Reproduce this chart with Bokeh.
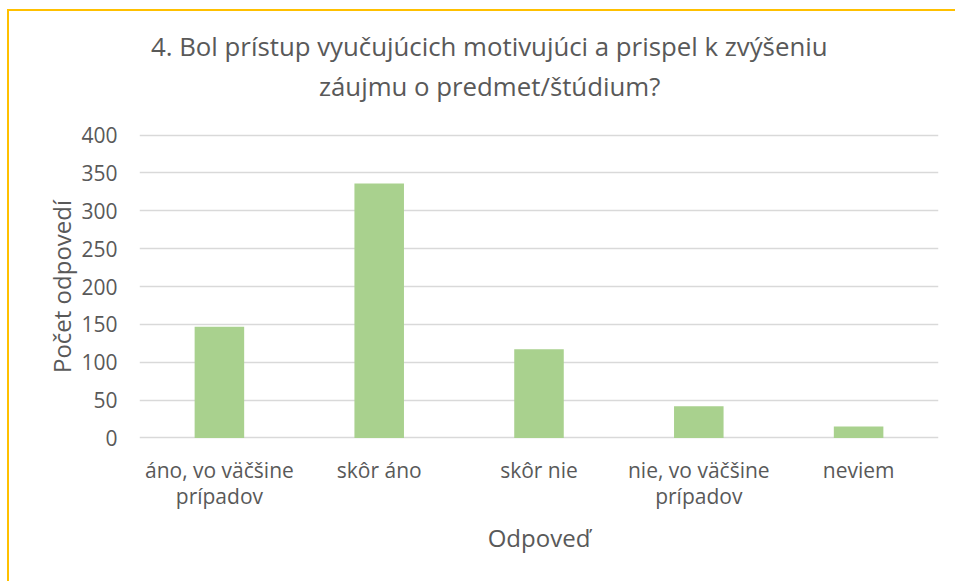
import glob
from bokeh.plotting import figure
from bokeh.models import Range1d, ColumnDataSource, Title
from bokeh.embed import file_html
from bokeh.resources import INLINE

categories = ["áno, vo väčšine\nprípadov", "skôr áno", "skôr nie", "nie, vo väčšine\nprípadov", "neviem"]
counts = [147, 336, 117, 42, 15]
y_ticks = [0, 50, 100, 150, 200, 250, 300, 350, 400]
title_lines = ["4. Bol prístup vyučujúcich motivujúci a prispel k zvýšeniu", "záujmu o predmet/štúdium?"]
x_title = "Odpoveď"
y_title = "Počet odpovedí"

FONT = "Open Sans"
TXT = "#595959"
FRAME_COLOR = "#FFC000"

# text width measurement (for centering the title over the chart area)
def make_measure():
    try:
        from PIL import ImageFont
        paths = sorted(glob.glob("/usr/share/fonts/**/OpenSans*.ttf", recursive=True))
        reg = [q for q in paths if "Regular" in q] or [q for q in paths if "Italic" not in q] or paths
        path = reg[0]
        return lambda s, size: ImageFont.truetype(path, size).getlength(s)
    except Exception:
        return lambda s, size: len(s) * size * 0.5
measure = make_measure()

TITLE_SIZE = 24
TARGET_W = 678
w24 = measure(title_lines[0], 24)
if w24 > 0:
    TITLE_SIZE = round(24 * TARGET_W / w24, 1)

src = ColumnDataSource(dict(cat=categories, val=counts))

FRAME_LEFT = 139
p = figure(x_range=categories, y_range=Range1d(-2, 402), width=947, height=573,
           output_backend="svg", toolbar_location=None,
           min_border_left=FRAME_LEFT, min_border_right=9, min_border_top=133, min_border_bottom=134)
p.border_fill_color = None
p.background_fill_color = "white"
p.outline_line_color = None
p.x_range.range_padding = 0

p.vbar(x="cat", top="val", width=0.31, source=src, fill_color="#A9D18E", line_color=None)

p.xgrid.grid_line_color = None
p.ygrid.grid_line_color = "#D9D9D9"
p.ygrid.grid_line_width = 1.5
p.yaxis.ticker = y_ticks

for ax in (p.xaxis, p.yaxis):
    ax.axis_line_color = None
    ax.major_tick_line_color = None
    ax.minor_tick_line_color = None
    ax.major_label_text_font = FONT
    ax.major_label_text_font_size = "21px"
    ax.major_label_text_color = TXT
    ax.axis_label_text_font = FONT
    ax.axis_label_text_font_size = "24px"
    ax.axis_label_text_color = TXT
    ax.axis_label_text_font_style = "normal"
    ax.major_tick_in = 0
    ax.major_tick_out = 0

p.xaxis.major_label_standoff = 16
p.xaxis.major_label_text_line_height = 0.95
p.yaxis.major_label_standoff = 22
p.xaxis.axis_label = x_title
p.yaxis.axis_label = y_title
p.xaxis.axis_label_standoff = 8
p.yaxis.axis_label_standoff = 0

title_kw = dict(text_font=FONT, text_font_size=f"{TITLE_SIZE}px", text_color=TXT, text_font_style="normal")
# blank spacer between the plot area and the title block
p.add_layout(Title(text=" ", standoff=-9, **title_kw), "above")
CENTER = 489
for t in reversed(title_lines):
    w = measure(t, TITLE_SIZE)
    p.add_layout(Title(text=t, align="left", offset=CENTER - w / 2 - FRAME_LEFT, standoff=2, **title_kw), "above")

html = file_html(p, INLINE)
frame_css = ("<style>html{background:"
             f"linear-gradient({FRAME_COLOR},{FRAME_COLOR}) 7px 9px/948px 2px no-repeat,"
             f"linear-gradient({FRAME_COLOR},{FRAME_COLOR}) 7px 9px/2px 572px no-repeat,#ffffff;}}</style>")
html = html.replace("</head>", frame_css + "</head>", 1)
open("out.html", "w").write(html)
